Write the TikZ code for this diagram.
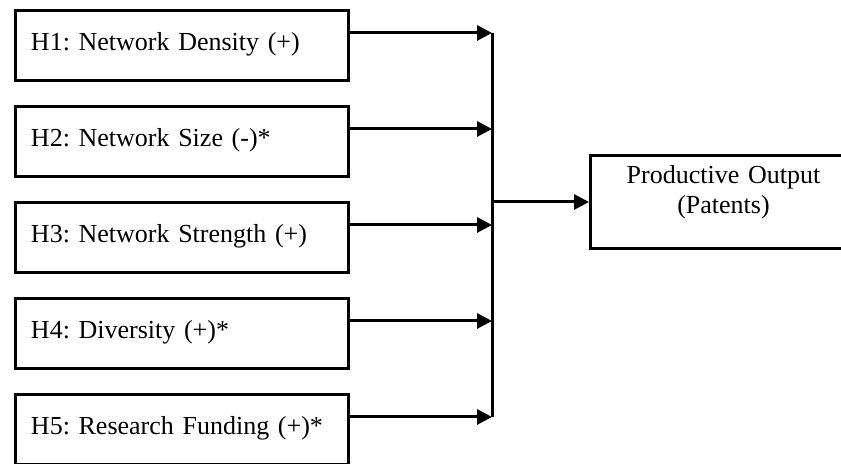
\documentclass[tikz,border=0pt]{standalone}
\usepackage{fontspec}
\setmainfont{Liberation Serif}
\usetikzlibrary{arrows.meta}

\begin{document}
\begin{tikzpicture}[x=0.5pt, y=-0.5pt, line width=1.5pt,
        hyp/.style={draw, rectangle, anchor=north west, inner sep=0pt,
            text width=166.5pt, text height=20pt, text depth=15pt, align=left,
            execute at begin node=\hspace*{8pt},
            font=\fontsize{13pt}{15pt}\selectfont\frenchspacing},
        res/.style={draw, rectangle, anchor=north west, inner sep=0pt,
            text width=133pt, text height=14pt, text depth=32.5pt, align=center,
            font=\fontsize{13pt}{15pt}\selectfont\frenchspacing},
        arr/.style={-{Triangle[length=7.5pt, width=7.5pt]}}]
    \useasboundingbox (0, 0) rectangle (841, 464);
    \node[hyp] (H1) at (13.5, 9.5) {H1: Network Density (+)};
    \node[hyp] (H2) at (13.5, 105.5) {H2: Network Size (-)*};
    \node[hyp] (H3) at (13.5, 201.5) {H3: Network Strength (+)};
    \node[hyp] (H4) at (13.5, 297.5) {H4: Diversity (+)*};
    \node[hyp] (H5) at (13.5, 393.5) {H5: Research Funding (+)*};
    \node[res] (P) at (589, 154) {Productive Output\\(Patents)};
    \coordinate (J1) at (492, 33);
    \coordinate (J2) at (492, 129);
    \coordinate (J3) at (492, 225);
    \coordinate (J4) at (492, 321);
    \coordinate (J5) at (492, 417);
    \draw[arr] (H1.east |- J1) -- (J1);
    \draw[arr] (H2.east |- J2) -- (J2);
    \draw[arr] (H3.east |- J3) -- (J3);
    \draw[arr] (H4.east |- J4) -- (J4);
    \draw[arr] (H5.east |- J5) -- (J5);
    \draw (J1) -- (J5);
    \draw[arr] (J1 |- P.west) -- (P.west);
\end{tikzpicture}
\end{document}
